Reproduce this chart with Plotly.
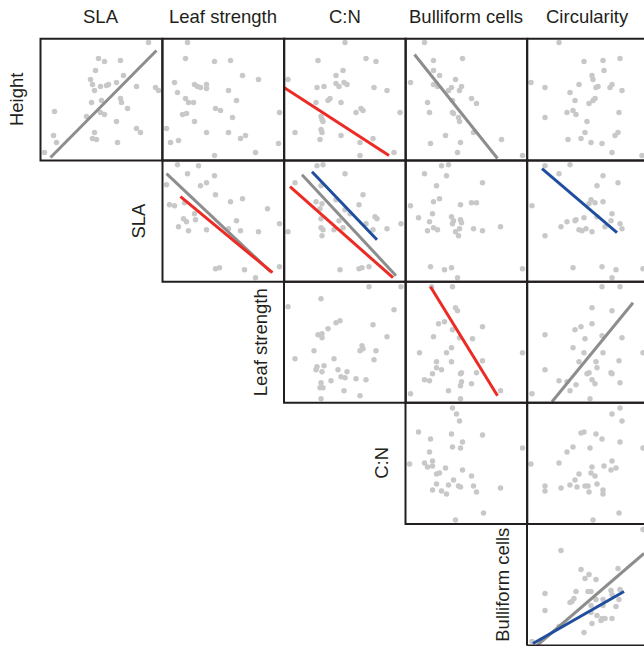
import plotly.graph_objects as go

# ---------------- labels ----------------
col_titles = ["SLA", "Leaf strength", "C:N", "Bulliform cells", "Circularity"]
row_titles = ["Height", "SLA", "Leaf strength", "C:N", "Bulliform cells"]

# ---------------- data (arbitrary trait units, per panel) ----------------
# Row: Height
height_sla_x = [108,58,64,80,55,83,50,52,60,66,68,76,96,115,118,54,80,81,51,61,87,14,60,64,46,76,96,100,54,13,16,52,56,77,4]
height_sla_y = [118,102,99,100,90,85,81,76,74,75,76,78,74,73,70,70,62,58,58,60,52,49,48,46,44,39,32,28,28,25,18,22,21,18,8]
height_leaf_x = [25,23,52,68,80,96,12,32,35,38,44,44,15,66,23,26,31,74,53,58,20,24,70,117,32,4,44,66,83,78,16,8,116,93,52]
height_leaf_y = [118,102,99,100,85,81,78,76,74,73,76,72,68,70,62,58,58,60,52,50,46,47,43,48,39,32,28,28,25,22,20,18,17,8,5]
height_cn_x = [4,34,33,40,44,32,37,38,39,37,38,11,36,61,82,92,59,52,52,55,60,63,90,103,46,57,77,79,72,116,57,89,76,76,110]
height_cn_y = [81,100,73,74,60,58,44,41,39,31,28,28,21,118,102,99,90,85,77,74,78,76,73,70,62,58,52,50,48,48,25,22,18,5,8]
height_bull_x = [19,28,57,28,34,50,5,28,32,46,56,54,43,66,71,22,47,24,47,48,53,54,68,40,25,55,96,52,117]
height_bull_y = [118,100,102,90,85,81,78,76,74,73,74,70,70,62,57,58,60,48,48,47,43,39,28,25,17,18,21,8,5]
height_circ_x = [32,57,76,93,77,65,66,52,4,18,69,71,85,83,95,43,48,62,66,68,40,46,49,18,92,60,58,54,64,41,75,88,91,85,115]
height_circ_y = [118,99,100,102,90,85,81,76,78,73,73,74,76,73,70,68,60,57,60,62,48,50,46,43,48,39,28,22,18,21,17,25,28,8,5]
# Row: SLA
sla_leaf_x = [15,36,25,52,4,38,44,53,7,12,22,68,80,32,105,21,24,33,74,117,16,26,44,66,78,96,53,57,82,117,93]
sla_leaf_y = [117,116,108,106,97,96,99,87,77,76,79,80,83,68,73,63,60,62,61,58,55,51,52,53,51,50,13,14,12,15,4]
sla_cn_x = [11,33,39,61,37,79,75,32,38,36,52,61,66,91,93,37,55,82,117,37,39,50,59,4,89,103,38,56,75,78,85]
sla_cn_y = [99,116,117,108,96,87,77,80,78,73,82,72,68,65,63,63,61,58,58,54,52,52,54,50,52,53,46,12,13,14,15]
sla_bull_x = [36,43,19,41,31,77,34,28,5,55,66,71,27,13,24,46,55,48,56,47,28,32,22,50,53,54,68,77,95,25,39,46,52,117]
sla_bull_y = [116,117,108,106,96,99,83,80,76,77,79,79,68,64,60,65,62,61,59,58,54,52,51,50,46,53,53,51,55,15,12,14,4,13]
sla_circ_x = [18,43,32,76,91,70,64,62,68,76,5,85,70,49,48,57,40,84,93,34,78,95,52,55,59,65,18,46,75,89,85,116]
sla_circ_y = [116,117,108,106,99,96,82,78,79,80,76,68,65,62,61,64,60,61,58,55,55,53,52,51,53,50,46,14,15,12,4,13]
# Row: Leaf strength
leaf_cn_x = [85,117,37,4,110,52,56,89,44,34,38,38,103,78,79,76,30,92,11,50,90,40,33,32,38,54,63,57,61,72,82,47,37,36,39,60,76,37]
leaf_cn_y = [116,116,104,96,93,80,82,78,74,68,69,65,66,57,54,52,52,52,44,44,43,37,36,33,31,33,31,26,25,24,23,22,20,15,15,12,7,4]
leaf_bull_x = [26,47,50,52,39,33,77,47,28,54,67,46,41,14,117,31,46,77,31,36,27,55,56,71,19,24,56,66,55,43,5,55,95]
leaf_bull_y = [116,116,95,92,81,79,76,73,66,65,64,55,50,50,50,41,41,42,35,33,29,29,30,30,23,22,21,19,17,12,9,4,12]
leaf_circ_x = [75,93,65,85,65,54,48,18,75,58,95,46,57,76,116,52,69,92,70,18,60,62,84,85,32,40,65,68,49,93,43,5,63]
leaf_circ_y = [116,116,95,92,79,76,73,68,67,64,65,55,50,50,50,41,41,42,35,33,29,30,30,29,22,21,23,19,18,20,12,9,4]
# Row: C:N
cn_bull_x = [47,51,54,13,25,46,77,57,47,55,117,24,4,19,27,22,27,40,57,34,31,66,48,31,43,53,55,68,27,36,41,71,95,78,50]
cn_bull_y = [116,110,103,92,85,90,89,82,77,76,76,72,60,61,63,57,58,56,54,51,50,48,44,40,39,38,37,38,34,33,30,32,36,11,4]
cn_circ_x = [93,85,95,54,57,69,75,93,46,63,40,116,4,32,85,77,84,89,65,64,52,68,48,18,18,34,43,50,58,61,70,62,76,76,92,66]
cn_circ_y = [116,110,103,91,92,90,85,82,77,76,72,76,60,61,63,58,54,56,57,51,50,48,44,38,33,36,39,37,38,38,40,32,34,30,11,4]
# Row: Bulliform cells
bull_circ_x = [116,34,54,62,58,69,91,18,18,49,61,64,84,93,47,43,45,69,76,85,92,64,76,89,64,70,75,74,78,85,65,57,32,5]
bull_circ_y = [116,95,76,71,67,66,77,52,35,54,54,54,55,56,47,43,44,46,46,51,46,40,40,39,33,30,27,25,27,27,22,13,19,4]

# fitted lines (end points in the same units): (row, col, kind, x, y)
fit_lines = [
    (0, 0, "gray", [10, 116], [3, 110]),
    (0, 2, "red", [0, 105], [73, 5]),
    (0, 3, "gray", [9, 92], [106, 2]),
    (1, 1, "gray", [4, 108], [108, 10]),
    (1, 1, "red", [18, 110], [85, 9]),
    (1, 2, "gray", [18, 112], [107, 6]),
    (1, 2, "red", [6, 109], [95, 4]),
    (1, 2, "blue", [28, 93], [110, 42]),
    (1, 4, "blue", [15, 90], [113, 49]),
    (2, 3, "red", [25, 92], [116, 7]),
    (2, 4, "gray", [25, 106], [1, 100]),
    (4, 4, "gray", [10, 117], [0, 92]),
    (4, 4, "blue", [6, 97], [2, 54]),
]

panels = [
    (0, 0, height_sla_x, height_sla_y), (0, 1, height_leaf_x, height_leaf_y),
    (0, 2, height_cn_x, height_cn_y), (0, 3, height_bull_x, height_bull_y),
    (0, 4, height_circ_x, height_circ_y),
    (1, 1, sla_leaf_x, sla_leaf_y), (1, 2, sla_cn_x, sla_cn_y),
    (1, 3, sla_bull_x, sla_bull_y), (1, 4, sla_circ_x, sla_circ_y),
    (2, 2, leaf_cn_x, leaf_cn_y), (2, 3, leaf_bull_x, leaf_bull_y),
    (2, 4, leaf_circ_x, leaf_circ_y),
    (3, 3, cn_bull_x, cn_bull_y), (3, 4, cn_circ_x, cn_circ_y),
    (4, 4, bull_circ_x, bull_circ_y),
]

# ---------------- styling / geometry ----------------
W, H = 644, 646
col_left = [40.5, 162.5, 284.0, 405.5, 527.0]
row_top = [38.7, 160.5, 281.7, 402.7, 524.0]
row_bot = [160.5, 281.7, 402.7, 524.0, 645.5]
PW = 121.8
line_colors = {"gray": "#8d8d8d", "red": "#ec2b24", "blue": "#1f4e9f"}
frame = "#231f20"
pt_color = "#c8c8c8"
FONT = "Liberation Sans, Arial, Helvetica, sans-serif"

fig = go.Figure()
layout = {}
shapes = []
idx = {}
for k, (r, c, xs, ys) in enumerate(panels, start=1):
    idx[(r, c)] = k
    L = col_left[c]
    R = min(L + PW, W)
    xa = "xaxis" if k == 1 else f"xaxis{k}"
    ya = "yaxis" if k == 1 else f"yaxis{k}"
    xref = "x" if k == 1 else f"x{k}"
    yref = "y" if k == 1 else f"y{k}"
    layout[xa] = dict(domain=[L / W, R / W], range=[0, R - L], anchor=yref,
                      showgrid=False, zeroline=False, showticklabels=False, ticks="",
                      showline=False, fixedrange=True)
    layout[ya] = dict(domain=[1 - row_bot[r] / H, 1 - row_top[r] / H],
                      range=[0, row_bot[r] - row_top[r]], anchor=xref,
                      showgrid=False, zeroline=False, showticklabels=False, ticks="",
                      showline=False, fixedrange=True)
    fig.add_trace(go.Scatter(x=xs, y=ys, mode="markers", xaxis=xref, yaxis=yref,
                             marker=dict(size=5.5, color=pt_color, line=dict(width=0)),
                             hoverinfo="skip", showlegend=False))
    # panel frame (open on the right for the cropped last column)
    dref = dict(xref=f"{xref} domain", yref=f"{yref} domain",
                line=dict(color=frame, width=2), layer="above")
    if c != 4:
        shapes.append(dict(type="rect", x0=0, x1=1, y0=0, y1=1, **dref))
    else:
        shapes.append(dict(type="line", x0=0, x1=1.05, y0=1, y1=1, **dref))
        shapes.append(dict(type="line", x0=0, x1=1.05, y0=0, y1=0, **dref))
        shapes.append(dict(type="line", x0=0, x1=0, y0=0, y1=1, **dref))

order = {"gray": 0, "red": 1, "blue": 2}
for r, c, kind, xs, ys in sorted(fit_lines, key=lambda t: order[t[2]]):
    k = idx[(r, c)]
    fig.add_trace(go.Scatter(x=xs, y=ys, mode="lines",
                             xaxis="x" if k == 1 else f"x{k}",
                             yaxis="y" if k == 1 else f"y{k}",
                             line=dict(color=line_colors[kind], width=3),
                             hoverinfo="skip", showlegend=False))

ann = []
for c, t in enumerate(col_titles):
    ann.append(dict(text=t, x=(col_left[c] + PW / 2) / W, y=1 - 17 / H,
                    xref="paper", yref="paper", xanchor="center", yanchor="middle",
                    showarrow=False, font=dict(family=FONT, size=18.5, color=frame)))
for r, t in enumerate(row_titles):
    ann.append(dict(text=t, x=(col_left[r] - 24) / W,
                    y=1 - (row_top[r] + row_bot[r]) / 2 / H,
                    xref="paper", yref="paper", xanchor="center", yanchor="middle",
                    textangle=-90, showarrow=False,
                    font=dict(family=FONT, size=18.5, color=frame)))

fig.update_layout(width=W, height=H, margin=dict(l=0, r=0, t=0, b=0),
                  paper_bgcolor="white", plot_bgcolor="white",
                  annotations=ann, shapes=shapes, **layout)

fig.write_html("out.html", config={"displayModeBar": False})
